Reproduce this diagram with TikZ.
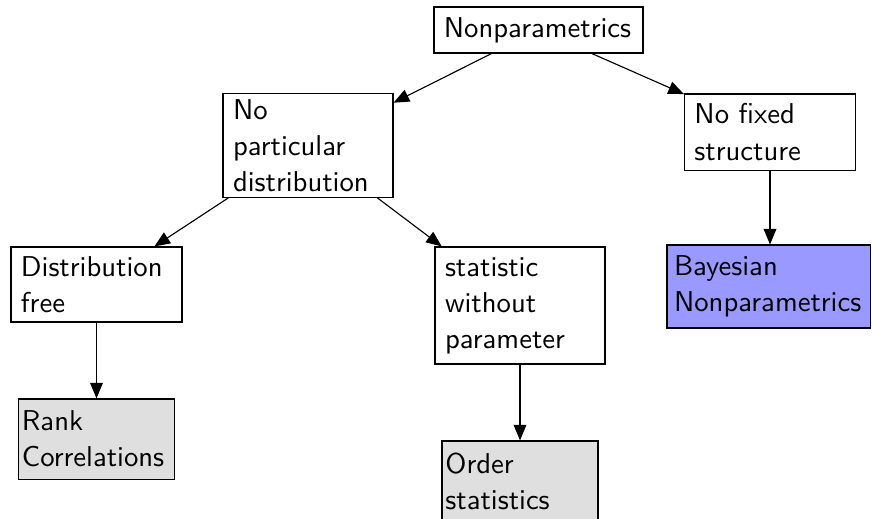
\documentclass[tikz,border=0pt]{standalone}
\usepackage{fontspec}
\usetikzlibrary{arrows.meta}
\definecolor{bayesblue}{RGB}{153,153,255}
\tikzset{
  box/.style={rectangle, draw, font=\sffamily\fontsize{10.1}{12.7}\selectfont, align=left, inner xsep=3.5pt, inner ysep=2pt},
  leaf/.style={box, fill=gray!25, inner xsep=1.2pt},
  goal/.style={box, fill=bayesblue, inner xsep=2.5pt},
  link/.style={-{Triangle[length=5.5pt,width=4.5pt]}}
}
\begin{document}
\begin{tikzpicture}[x=0.352pt, y=-0.352pt]
  \useasboundingbox (0,0) rectangle (872,518);
  % top level
  \node[box, text width=66.6pt, minimum height=16.2pt] (root) at (538.5,30) {Nonparametrics};
  % second level
  \node[box, text width=52.8pt, minimum height=36.3pt] (nopart) at (308,145.5) {No\\particular\\distribution};
  \node[box, text width=53.2pt, minimum height=26.8pt] (nofixed) at (770,132) {No fixed\\structure};
  % third level
  \node[box, text width=53.2pt, minimum height=26.4pt] (distfree) at (96.5,284.5) {Distribution\\free};
  \node[box, text width=52.8pt, minimum height=41.2pt] (stat) at (520,305.5) {statistic\\without\\parameter};
  \node[goal, text width=66.5pt, minimum height=29.2pt] (bayes) at (768.5,286.5) {Bayesian\\Nonparametrics};
  % leaves
  \node[leaf, text width=52.5pt, minimum height=28.2pt] (rank) at (96.5,439) {Rank\\Correlations};
  \node[leaf, text width=52.5pt, minimum height=28.2pt] (order) at (520,481) {Order\\statistics};
  \draw[link] (root) -- (nopart);
  \draw[link] (root) -- (nofixed);
  \draw[link] (nopart) -- (distfree);
  \draw[link] (nopart) -- (stat);
  \draw[link] (nofixed) -- (nofixed |- bayes.north);
  \draw[link] (distfree) -- (rank);
  \draw[link] (stat) -- (order);
\end{tikzpicture}
\end{document}
